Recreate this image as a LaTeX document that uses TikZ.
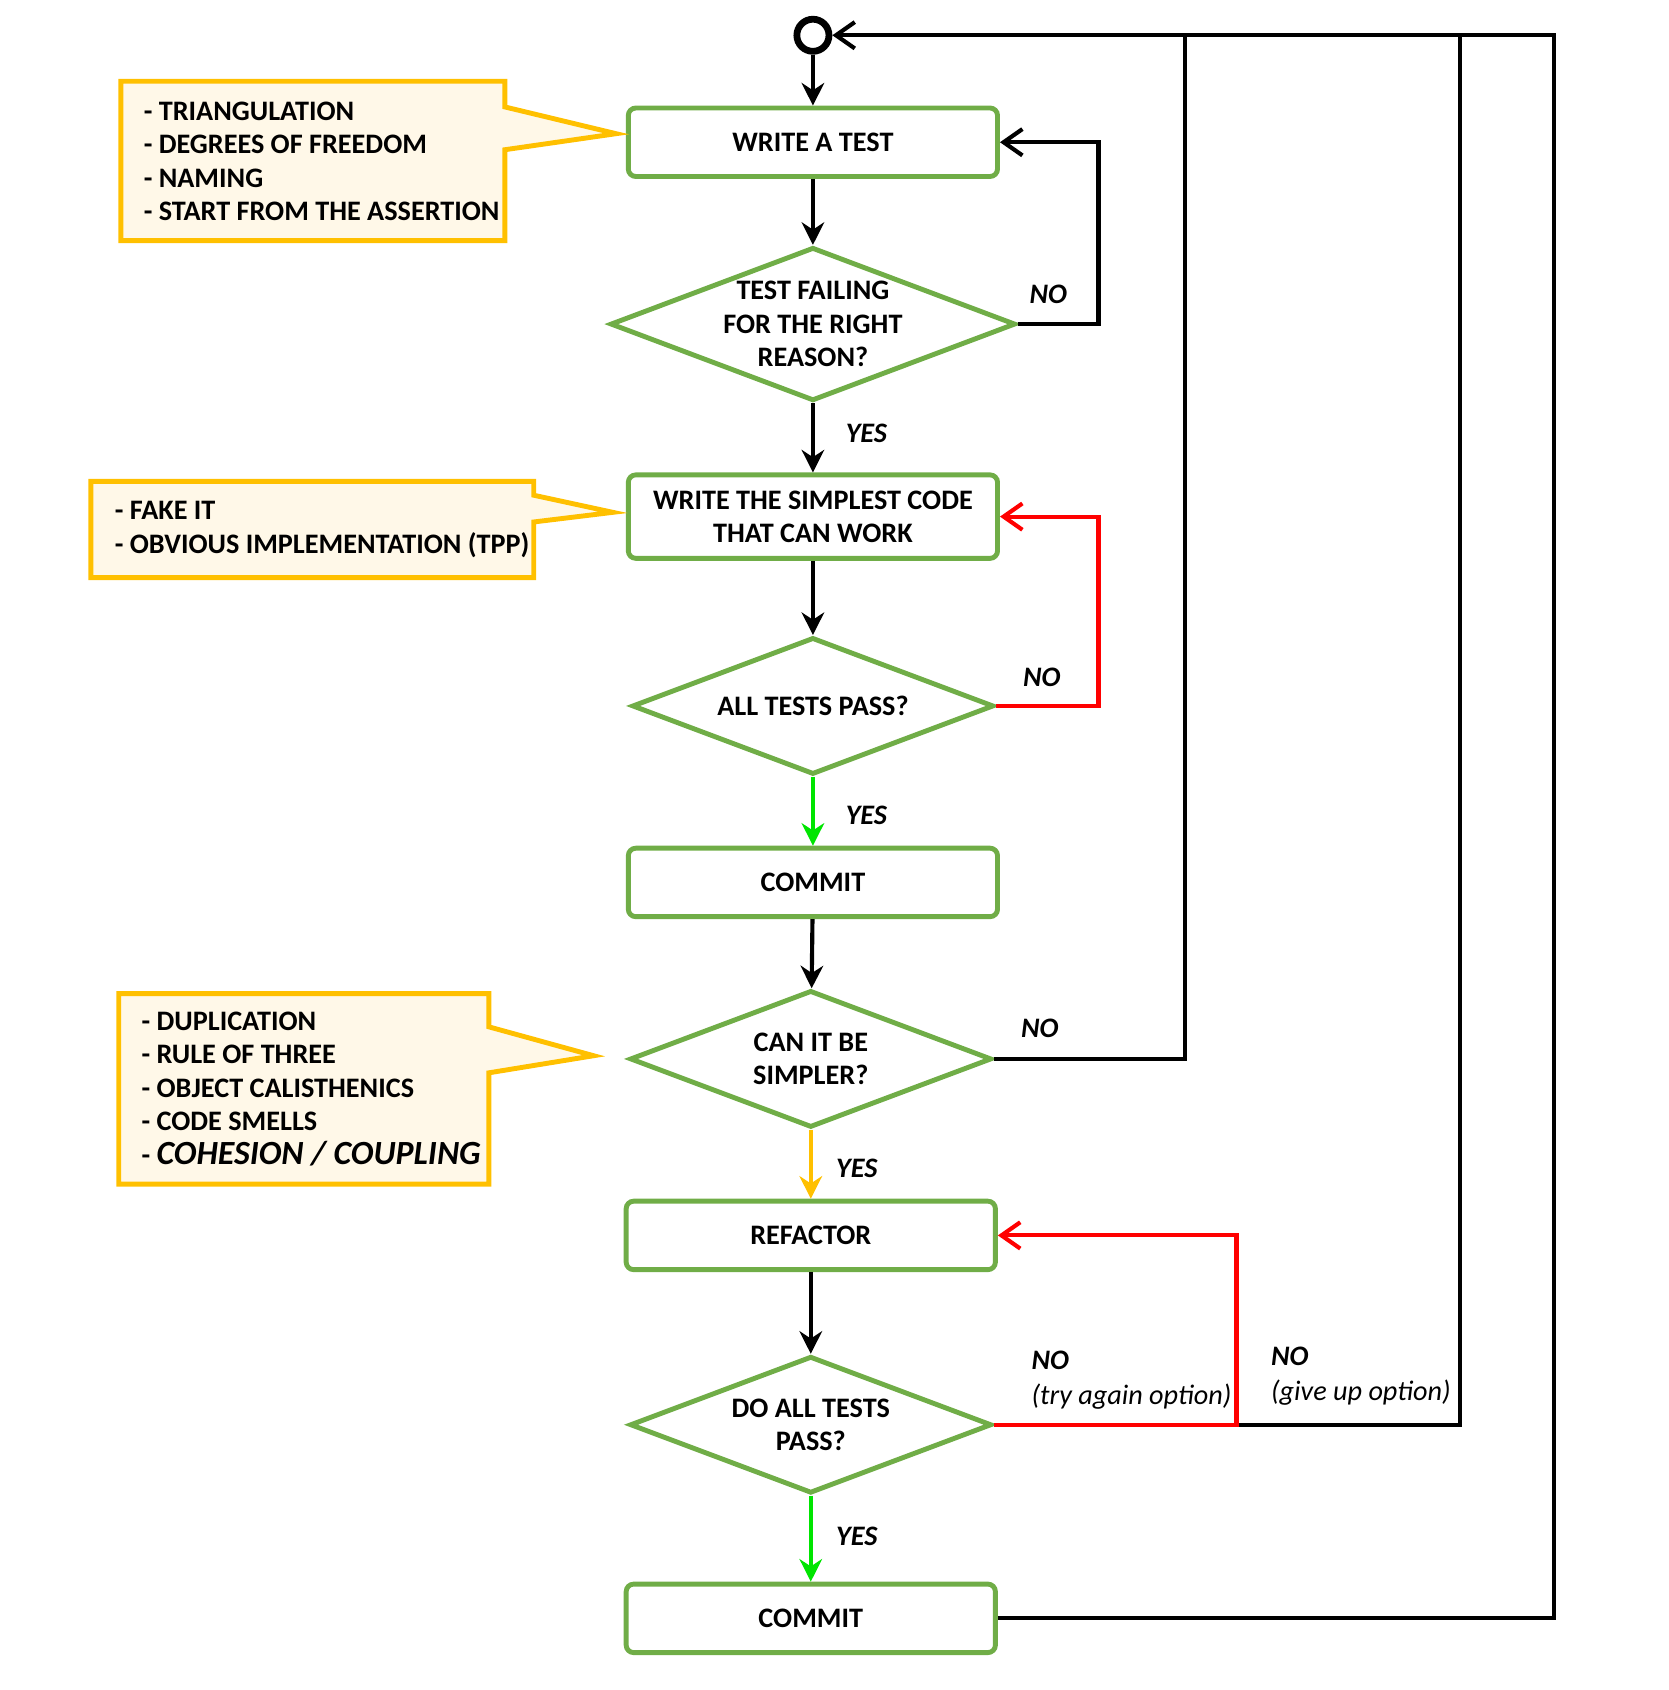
\documentclass[tikz,border=0pt]{standalone}
\usepackage{fontspec}
\setmainfont{Carlito}
\usetikzlibrary{shapes.geometric,arrows.meta}
\definecolor{boxgreen}{HTML}{70AD47}
\definecolor{noteedge}{HTML}{FFC000}
\definecolor{notefill}{HTML}{FFF8E8}
\begin{document}
\begin{tikzpicture}[x=0.01cm,y=-0.01cm,
  every node/.style={font=\fontsize{7.5}{8.9}\selectfont\bfseries},
  stage/.style={draw=boxgreen,line width=1.3pt,rounded corners=2pt,minimum width=3.45cm,minimum height=0.64cm,align=center,inner sep=0pt},
  check/.style={draw=boxgreen,line width=1.3pt,diamond,aspect=2.64,minimum width=3.38cm,minimum height=1.28cm,align=center,inner sep=0pt},
  flow/.style={line width=1.1pt,-{Stealth[length=6pt,width=6pt]}},
  loop/.style={line width=1.1pt,-{Straight Barb[length=5pt,width=7pt]}},
  ans/.style={font=\fontsize{7.5}{9.3}\selectfont\bfseries\itshape,align=left},
  note/.style={draw=noteedge,fill=notefill,line width=1.3pt}]
\useasboundingbox (0,0) rectangle (1560,1580);

% flow nodes
\node[circle,draw,line width=1.8pt,minimum size=0.3cm,inner sep=0pt] (start) at (760,33) {};
\node[stage] (write) at (760,133) {WRITE A TEST};
\node[check] (fail) at (760,303) {TEST FAILING\\FOR THE RIGHT\\REASON?};
\node[stage,minimum height=0.78cm] (code) at (760,483) {WRITE THE SIMPLEST CODE\\THAT CAN WORK};
\node[check] (pass) at (760,660) {ALL TESTS PASS?};
\node[stage] (commit) at (760,825) {COMMIT};
\node[check] (simpler) at (758,990) {CAN IT BE\\SIMPLER?};
\node[stage] (refactor) at (758,1155) {REFACTOR};
\node[check] (again) at (758,1332) {DO ALL TESTS\\PASS?};
\node[stage] (commitb) at (758,1513) {COMMIT};

% main line
\draw[flow] (start) -- (write);
\draw[flow] (write) -- (fail);
\draw[flow] (fail) -- (code);
\draw[flow] (code) -- (pass);
\draw[flow,green!90!black] (pass) -- (commit);
\draw[flow] (commit) -- (simpler);
\draw[flow,noteedge] (simpler) -- (refactor);
\draw[flow] (refactor) -- (again);
\draw[flow,green!90!black] (again) -- (commitb);

% loops back
\draw[loop] (fail.east) -| (1027,133) -- (write.east);
\draw[loop,red] (pass.east) -| (1027,483) -- (code.east);
\draw[loop] (simpler.east) -| (1108,33) -- (start.east);
\draw[line width=1.1pt] (again.east) -| (1365,33);
\draw[loop,red] (again.east) -| (1156,1155) -- (refactor.east);
\draw[line width=1.1pt] (commitb.east) -| (1453,33) -- (1108,33);

% answers
\node[ans] (y1) at (810,405) {YES};
\node[ans] (y2) at (810,762) {YES};
\node[ans] (y3) at (801,1092) {YES};
\node[ans] (y4) at (801,1436) {YES};
\node[ans] (n1) at (980,275) {NO};
\node[ans] (n2) at (974,633) {NO};
\node[ans] (n3) at (972,961) {NO};
\node[ans,anchor=west] (n4) at (952,1290) {NO\\\mdseries(try again option)};
\node[ans,anchor=west] (n5) at (1176,1287) {NO\\\mdseries(give up option)};

% notes
\draw[note] (113,76) -- (472,76) -- (472,100) -- (576,125) -- (472,140) -- (472,225) -- (113,225) -- cycle;
\node[anchor=west,align=left] (tips) at (122,151)
  {- TRIANGULATION\\- DEGREES OF FREEDOM\\- NAMING\\- START FROM THE ASSERTION};
\draw[note] (85,450) -- (499,450) -- (499,463) -- (573,479) -- (499,488) -- (499,540) -- (85,540) -- cycle;
\node[anchor=west,align=left] (greens) at (95,495)
  {- FAKE IT\\- OBVIOUS IMPLEMENTATION (TPP)};
\draw[note] (111,929) -- (457,929) -- (457,960) -- (555,987) -- (457,1003) -- (457,1107) -- (111,1107) -- cycle;
\node[anchor=west,align=left] (smells) at (120,1018)
  {- DUPLICATION\\- RULE OF THREE\\- OBJECT CALISTHENICS\\- CODE SMELLS\\- {\fontsize{9}{9}\selectfont\itshape COHESION / COUPLING}};
\end{tikzpicture}
\end{document}
